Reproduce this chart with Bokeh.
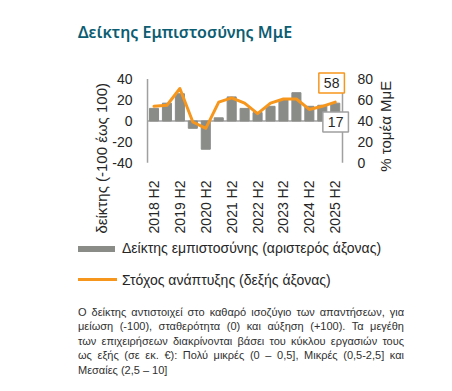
import math
from bokeh.plotting import figure
from bokeh.models import Range1d, Label, FixedTicker, Div, Title
from bokeh.core.properties import value
from bokeh.layouts import column
from bokeh.embed import file_html
from bokeh.resources import INLINE

# ---- data ----
periods = ["2018 H2", "2019 H1", "2019 H2", "2020 H1", "2020 H2", "2021 H1",
           "2021 H2", "2022 H1", "2022 H2", "2023 H1", "2023 H2", "2024 H1",
           "2024 H2", "2025 H1", "2025 H2"]
confidence = [12, 17, 26, -7, -27, 3, 23, 12, 8, 14, 20, 27, 14, 15, 17]
growth = [54, 55, 71, 39, 33, 58, 62, 57, 47, 57, 61, 61, 51, 54, 58]
left_ticks = [-40, -20, 0, 20, 40]
right_ticks = [0, 20, 40, 60, 80]
tick_labels = ["2018 H2", "2019 H2", "2020 H2", "2021 H2", "2022 H2",
               "2023 H2", "2024 H2", "2025 H2"]

title_text = "Δείκτης Εμπιστοσύνης ΜμΕ"
left_label = "δείκτης (-100 έως 100)"
right_label = "% τομέα ΜμΕ"
legend_bar = "Δείκτης εμπιστοσύνης (αριστερός άξονας)"
legend_line = "Στόχος ανάπτυξης (δεξής άξονας)"
note_lines = [
    "Ο δείκτης αντιστοιχεί στο καθαρό ισοζύγιο των απαντήσεων, για",
    "μείωση (-100), σταθερότητα (0) και αύξηση (+100). Τα μεγέθη",
    "των επιχειρήσεων διακρίνονται βάσει του κύκλου εργασιών τους",
    "ως εξής (σε εκ. €): Πολύ μικρές (0 – 0,5], Μικρές (0,5-2,5] και",
    "Μεσαίες (2,5 – 10]",
]

GRAY = "#8a8c88"
ORANGE = "#f7961c"
AXIS = "#a0a0a0"
TXT = "#262626"
FONT = "Liberation Sans"

idx = list(range(len(periods)))
# axis extents; the frame is larger so labels drawn inside it are not clipped
x_lo, x_hi = -0.5, 14.56
pad_left, pad_right = 2.86, 4.48
pad_top, pad_bottom = 10.1, 9.2

p = figure(width=444, height=186,
           x_range=Range1d(x_lo - pad_left, x_hi + pad_right),
           y_range=Range1d(left_ticks[0] - pad_bottom, left_ticks[-1] + pad_top),
           output_backend="svg", toolbar_location=None,
           min_border_left=110, min_border_right=44,
           min_border_top=18, min_border_bottom=60)
p.outline_line_color = None
p.xgrid.visible = False
p.ygrid.visible = False
p.yaxis.visible = False
p.background_fill_color = "white"
p.border_fill_color = "white"
p.extra_y_ranges = {"right": Range1d(right_ticks[0] - pad_bottom, right_ticks[-1] + pad_top)}

# axis lines and zero line
p.segment(x0=[x_lo, x_hi, x_lo], y0=[left_ticks[0], left_ticks[0], 0],
          x1=[x_lo, x_hi, x_hi], y1=[left_ticks[-1], left_ticks[-1], 0],
          line_color=AXIS, line_width=1.5)
p.vbar(x=idx, top=confidence, width=0.7, color=GRAY)
p.line(x=idx, y=growth, y_range_name="right", color=ORANGE, line_width=3,
       line_join="round", line_cap="round")

# tick labels of the two y axes
tick_style = dict(text_font=value(FONT), text_font_size="14px", text_color=TXT,
                  text_baseline="middle")
p.text(x=[x_lo - 1.16] * len(left_ticks), y=left_ticks,
       text=[str(t) for t in left_ticks], text_align="right", **tick_style)
p.text(x=[x_hi + 1.16] * len(right_ticks), y=right_ticks, y_range_name="right",
       text=[str(t) for t in right_ticks], text_align="left", **tick_style)

xa = p.xaxis[0]
xa.ticker = FixedTicker(ticks=idx[::2])
xa.major_label_overrides = {i: t for i, t in zip(idx[::2], tick_labels)}
xa.major_label_orientation = math.pi / 2
xa.major_tick_line_color = None
xa.minor_tick_line_color = None
xa.axis_line_color = None
xa.major_label_text_font = FONT
xa.major_label_text_font_size = "14px"
xa.major_label_text_color = TXT
xa.major_label_standoff = 2

p.add_layout(Title(text=left_label, align="left", offset=-61, standoff=2,
                   text_font=FONT, text_font_size="15px", text_font_style="normal",
                   text_color=TXT), "left")

lab = dict(text_font=FONT, text_font_size="14px", text_color=TXT,
           text_align="center", text_baseline="middle")
p.add_layout(Label(x=x_hi + 3.3, y=-5.06, text=right_label, angle=math.pi / 2,
                   **{**lab, "text_font_size": "15px"}))
# value boxes
p.add_layout(Label(x=idx[-1] - 0.28, y=growth[-1] + 18.3, y_range_name="right",
                   text=str(growth[-1]),
                   background_fill_color="white", border_line_color=ORANGE,
                   border_line_width=1.5, padding=5, **lab))
p.add_layout(Label(x=idx[-1] + 0.03, y=confidence[-1] - 17.9,
                   text=str(confidence[-1]),
                   background_fill_color="white", border_line_color=AXIS,
                   border_line_width=1.5, padding=5, **lab))

title_div = Div(text=f'<div style="position:relative;width:444px;height:50px;">'
                     f'<div style="position:absolute;left:78px;top:22px;font-family:\'Noto Sans\';'
                     f'font-size:16px;font-weight:600;line-height:20px;color:#0c5d72;white-space:nowrap;">'
                     f'{title_text}</div></div>',
                width=444, height=50, margin=0)

legend_div = Div(text=(
    '<div style="position:relative;width:444px;height:60px;font-family:\'Liberation Sans\';'
    'font-size:14px;line-height:16px;color:#262626;">'
    f'<div style="position:absolute;left:78px;top:10px;width:37px;height:6px;background:{GRAY};"></div>'
    f'<div style="position:absolute;left:122px;top:4px;white-space:nowrap;">{legend_bar}</div>'
    f'<div style="position:absolute;left:78px;top:42px;width:39px;height:3px;background:{ORANGE};"></div>'
    f'<div style="position:absolute;left:122px;top:36px;white-space:nowrap;">{legend_line}</div>'
    '</div>'), width=444, height=60, margin=0)

rows = []
for i, line in enumerate(note_lines):
    last_line = i == len(note_lines) - 1
    align = "text-align:left;" if last_line else "text-align:justify;text-align-last:justify;"
    rows.append(f'<div style="{align}white-space:nowrap;">{line}</div>')
foot_div = Div(text=(
    '<div style="position:relative;width:444px;height:87px;">'
    '<div style="position:absolute;left:78px;top:9px;width:326px;font-family:\'Liberation Sans\';'
    'font-size:11px;line-height:14.4px;color:#303030;">'
    + "".join(rows) + '</div></div>'), width=444, height=87, margin=0)

layout = column(title_div, p, legend_div, foot_div, spacing=0)
open("out.html", "w").write(file_html(layout, INLINE))
